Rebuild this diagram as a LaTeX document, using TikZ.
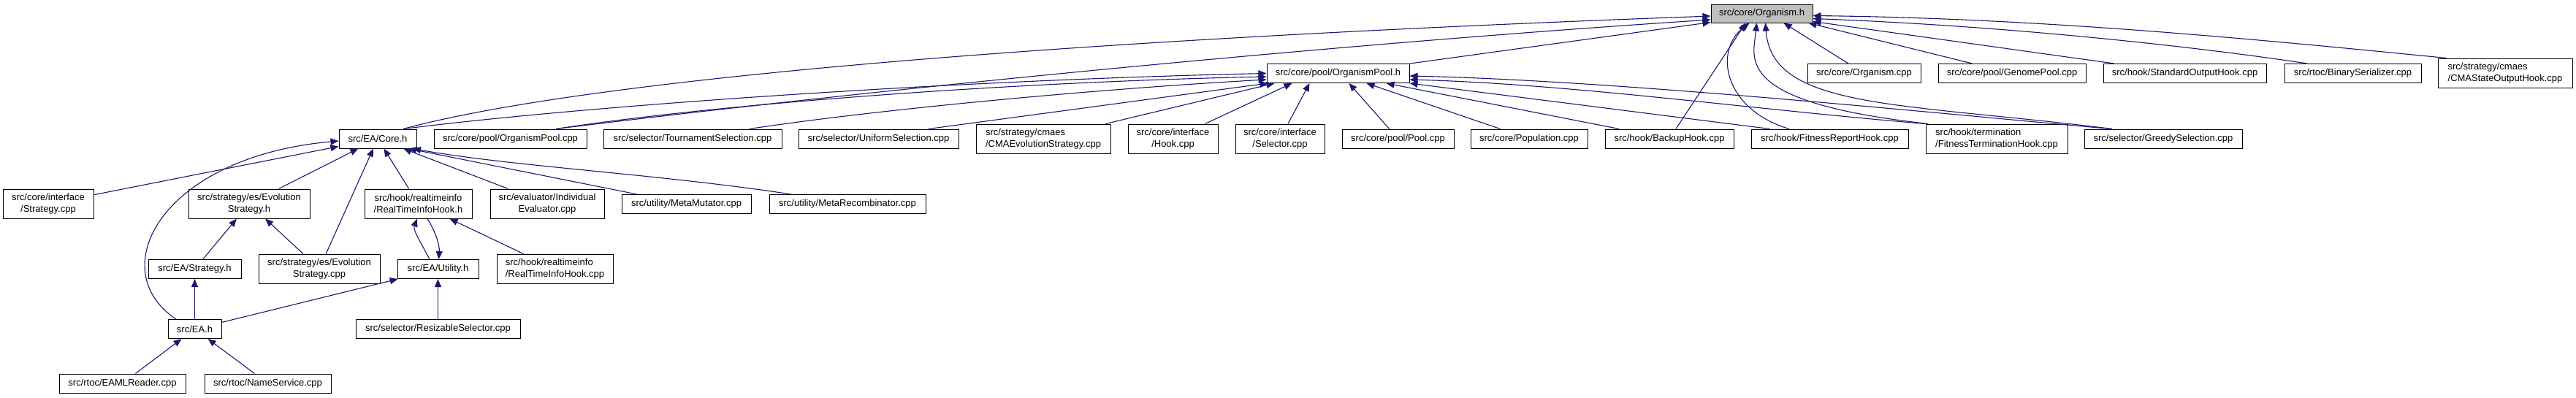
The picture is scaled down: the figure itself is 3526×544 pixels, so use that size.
\documentclass[tikz,border=0pt]{standalone}
\usepackage{fontspec}
\setmainfont{Liberation Sans}
\usetikzlibrary{arrows.meta}
\definecolor{edgeblue}{HTML}{191970}
\definecolor{rootgray}{HTML}{BFBFBF}
\begin{document}
\begin{tikzpicture}[x=1pt,y=-1pt,
 box/.style={draw=black,line width=1pt,fill=white,inner sep=0pt,minimum height=26pt,font=\fontsize{13}{16}\selectfont,align=center},
 box2/.style={box,minimum height=40pt},
 edge/.style={draw=edgeblue,line width=1.1pt,-{Triangle[length=11pt,width=9pt]}}]
\fill[white] (0,0) rectangle (3526,544);
\useasboundingbox (0,0) rectangle (3526,544);
% row 0
\node[box,fill=rootgray,minimum width=139pt,minimum height=25pt] (orgh) at (2411.5,18.5) {src/core/Organism.h};
% row 1
\node[box,minimum width=195pt] (orgpoolh) at (1831.5,100.5) {src/core/pool/OrganismPool.h};
\node[box,minimum width=155pt] (orgcpp) at (2551.5,100.5) {src/core/Organism.cpp};
\node[box,minimum width=202pt] (genomepool) at (2754,100.5) {src/core/pool/GenomePool.cpp};
\node[box,minimum width=223pt] (stdout) at (2990.5,100.5) {src/hook/StandardOutputHook.cpp};
\node[box,minimum width=187pt] (binser) at (3220.5,100.5) {src/rtoc/BinarySerializer.cpp};
\node[box2,align=left,minimum width=184pt] (cmastate) at (3429,100) {src/strategy/cmaes\\/CMAStateOutputHook.cpp};
% row 2
\node[box,minimum width=106pt] (core) at (517,190) {src/EA/Core.h};
\node[box,minimum width=209pt] (orgpoolcpp) at (698.5,190) {src/core/pool/OrganismPool.cpp};
\node[box,minimum width=244pt] (tournament) at (948,190) {src/selector/TournamentSelection.cpp};
\node[box,minimum width=219pt] (uniform) at (1202.5,190) {src/selector/UniformSelection.cpp};
\node[box2,align=left,minimum width=184pt] (cmaes) at (1428,190) {src/strategy/cmaes\\/CMAEvolutionStrategy.cpp};
\node[box2,minimum width=123pt] (hookcpp) at (1605.5,190) {src/core/interface\\/Hook.cpp};
\node[box2,minimum width=122pt] (selectorcpp) at (1752,190) {src/core/interface\\/Selector.cpp};
\node[box,minimum width=153pt] (poolcpp) at (1913.5,190) {src/core/pool/Pool.cpp};
\node[box,minimum width=160pt] (population) at (2093,190) {src/core/Population.cpp};
\node[box,minimum width=176pt] (backup) at (2285,190) {src/hook/BackupHook.cpp};
\node[box,minimum width=215pt] (fitreport) at (2504.5,190) {src/hook/FitnessReportHook.cpp};
\node[box2,align=left,minimum width=194pt] (fitterm) at (2733,190) {src/hook/termination\\/FitnessTerminationHook.cpp};
\node[box,minimum width=216pt] (greedy) at (2961,190) {src/selector/GreedySelection.cpp};
% row 3
\node[box2,minimum width=124pt] (strategycpp) at (66,279) {src/core/interface\\/Strategy.cpp};
\node[box2,minimum width=166pt] (esh) at (341,279) {src/strategy/es/Evolution\\Strategy.h};
\node[box2,minimum width=147pt] (rtih) at (572.5,279) {src/hook/realtimeinfo\\/RealTimeInfoHook.h};
\node[box2,minimum width=156pt] (indeval) at (749,279) {src/evaluator/Individual\\Evaluator.cpp};
\node[box,minimum width=177pt] (metamut) at (939.5,279.5) {src/utility/MetaMutator.cpp};
\node[box,minimum width=214pt] (metarec) at (1160,279.5) {src/utility/MetaRecombinator.cpp};
% row 4
\node[box,minimum width=127pt] (eastrat) at (266.5,368.5) {src/EA/Strategy.h};
\node[box2,minimum width=166pt] (escpp) at (437,368) {src/strategy/es/Evolution\\Strategy.cpp};
\node[box,minimum width=111pt] (utility) at (599.5,368.5) {src/EA/Utility.h};
\node[box2,align=left,minimum width=159pt] (rticpp) at (759.5,368) {src/hook/realtimeinfo\\/RealTimeInfoHook.cpp};
% row 5
\node[box,minimum width=73pt] (eah) at (266.5,450.5) {src/EA.h};
\node[box,minimum width=225pt] (resizable) at (599.5,450.5) {src/selector/ResizableSelector.cpp};
% row 6
\node[box,minimum width=173pt] (eaml) at (167.5,525) {src/rtoc/EAMLReader.cpp};
\node[box,minimum width=173pt] (nameservice) at (366.5,525) {src/rtoc/NameService.cpp};

% edges to Organism.h
\draw[edge] ([xshift=35pt]core.north) .. controls (760,120) and (1300,60) .. ([yshift=-3.5pt]orgh.west);
\draw[edge] ([xshift=62.5pt]orgpoolcpp.north) .. controls (1150,128) and (1800,62) .. ([yshift=-8.5pt]orgh.west);
\draw[edge] (orgpoolh) -- ([yshift=1pt]orgh.south west);
\draw[edge] (backup) -- ([xshift=48pt]orgh.south west);
\draw[edge] ([xshift=-55.5pt]fitreport.north) .. controls (2360,150) and (2345,70) .. ([xshift=53pt]orgh.south west);
\draw[edge] ([xshift=4pt]fitterm.north west) .. controls (2370,140) and (2400,80) .. ([xshift=63pt]orgh.south west);
\draw[edge] ([xshift=-70pt]greedy.north) .. controls (2600,140) and (2425,150) .. ([xshift=75pt]orgh.south west);
\draw[edge] (orgcpp) -- ([xshift=100pt]orgh.south west);
\draw[edge] (genomepool) -- ([xshift=134pt]orgh.south west);
\draw[edge] (stdout) -- ([yshift=2pt]orgh.south east);
\draw[edge] ([xshift=-62.5pt]binser.north) .. controls (3020,66) and (2760,36) .. ([yshift=6pt]orgh.south east);
\draw[edge] ([xshift=12pt]cmastate.north west) .. controls (3100,55) and (2800,25) .. ([yshift=10pt]orgh.south east);

% edges to OrganismPool.h
\draw[edge] ([xshift=35pt]core.north) .. controls (800,145) and (1300,110) .. (orgpoolh.west);
\draw[edge] ([xshift=62.5pt]orgpoolcpp.north) .. controls (1000,140) and (1400,112) .. ([yshift=-4.5pt]orgpoolh.west);
\draw[edge] ([xshift=78pt]tournament.north) .. controls (1200,150) and (1500,122) .. ([yshift=-8.5pt]orgpoolh.west);
\draw[edge] ([xshift=68.5pt]uniform.north) -- ([xshift=2pt]orgpoolh.south west);
\draw[edge] (cmaes) -- ([xshift=11pt]orgpoolh.south west);
\draw[edge] (hookcpp) -- ([xshift=35pt]orgpoolh.south west);
\draw[edge] (selectorcpp) -- ([xshift=59pt]orgpoolh.south west);
\draw[edge] (poolcpp) -- ([xshift=113pt]orgpoolh.south west);
\draw[edge] (population) -- ([xshift=137pt]orgpoolh.south west);
\draw[edge] (backup) -- ([xshift=164pt]orgpoolh.south west);
\draw[edge] ([xshift=-82pt]fitreport.north) -- (orgpoolh.south east);
\draw[edge] (fitterm.north west) .. controls (2400,150) and (2150,115) .. ([yshift=5pt]orgpoolh.south east);
\draw[edge] ([xshift=-72pt]greedy.north) .. controls (2600,150) and (2200,110) .. ([yshift=10pt]orgpoolh.south east);

% edges to Core.h
\draw[edge] (strategycpp) -- (core);
\draw[edge] ([xshift=-25.5pt]eah.north) .. controls (140,370) and (220,215) .. ([yshift=-3pt]core.west);
\draw[edge] (esh) -- (core);
\draw[edge] (escpp) -- (core);
\draw[edge] (rtih) -- (core);
\draw[edge] (indeval) -- (core);
\draw[edge] (metamut) -- ([xshift=42pt]core.south);
\draw[edge] ([xshift=-77pt]metarec.north) .. controls (900,238) and (700,228) .. ([xshift=48pt]core.south);

% edges to EvolutionStrategy.h
\draw[edge] (eastrat) -- (esh);
\draw[edge] (escpp) -- (esh);

% RealTimeInfoHook.h <-> Utility.h
\draw[edge] ([xshift=-11.5pt]utility.north) .. controls (575,330) and (565,315) .. ([xshift=-1.5pt]rtih.south);
\draw[edge] ([xshift=12.5pt]rtih.south) .. controls (595,315) and (602,335) .. ([xshift=1pt]utility.north);
\draw[edge] (rticpp) -- (rtih);

% edges to Utility.h
\draw[edge] (eah) -- (utility);
\draw[edge] (resizable) -- (utility);

% edges to EA/Strategy.h and EA.h
\draw[edge] (eah) -- (eastrat);
\draw[edge] (eaml) -- (eah);
\draw[edge] (nameservice) -- (eah);
\end{tikzpicture}
\end{document}
